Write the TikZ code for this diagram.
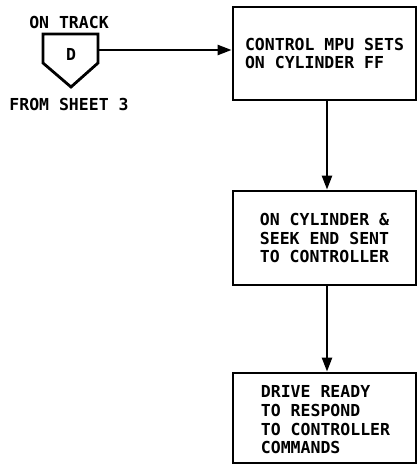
\documentclass[tikz,border=0pt]{standalone}
\usepackage{fontspec}
\setmainfont{DejaVu Sans Mono}
\usetikzlibrary{arrows.meta}
\begin{document}
\begin{tikzpicture}[x=1bp,y=-1bp,
  line width=2.8bp,
  txt/.style={font=\fontsize{16.5bp}{18.7bp}\selectfont\bfseries, inner sep=0pt},
  flowbox/.style={draw, minimum width=183bp, inner sep=0pt, line join=miter},
  conn/.style={line width=2.4bp, -{Triangle[length=14bp,width=10bp]}}]
\useasboundingbox (0,0) rectangle (418,466);
% boxes
\node[flowbox, minimum height=93bp] (b1) at (324.5,53.5) {};
\node[txt, align=left] (t1) at (b1.center) {CONTROL MPU SETS\\ON CYLINDER FF};
\node[flowbox, minimum height=94bp] (b2) at (324.5,238) {};
\node[txt, align=left] (t2) at (b2.center) {ON CYLINDER \&\\SEEK END SENT\\TO CONTROLLER};
\node[flowbox, minimum height=90bp] (b3) at (324.5,418) {};
\node[txt, align=left] (t3) at (325.5,420) {DRIVE READY\\TO RESPOND\\TO CONTROLLER\\COMMANDS};
% off-page connector
\draw[line join=miter] (43,34) -- (98,34) -- (98,63) -- (71,87) -- (43,63) -- cycle;
\node[txt] (d) at (71,54) {D};
\node[txt] (ontrack) at (69,22) {ON TRACK};
\node[txt] (from) at (69,104) {FROM SHEET 3};
\coordinate (pout) at (98,50);
\coordinate (b1in) at (b1.west |- pout);
% connectors
\draw[conn] (pout) -- (b1in);
\draw[conn] (b1.south -| 327,0) -- (b2.north -| 327,0);
\draw[conn] (b2.south -| 327,0) -- (b3.north -| 327,0);
\end{tikzpicture}
\end{document}
